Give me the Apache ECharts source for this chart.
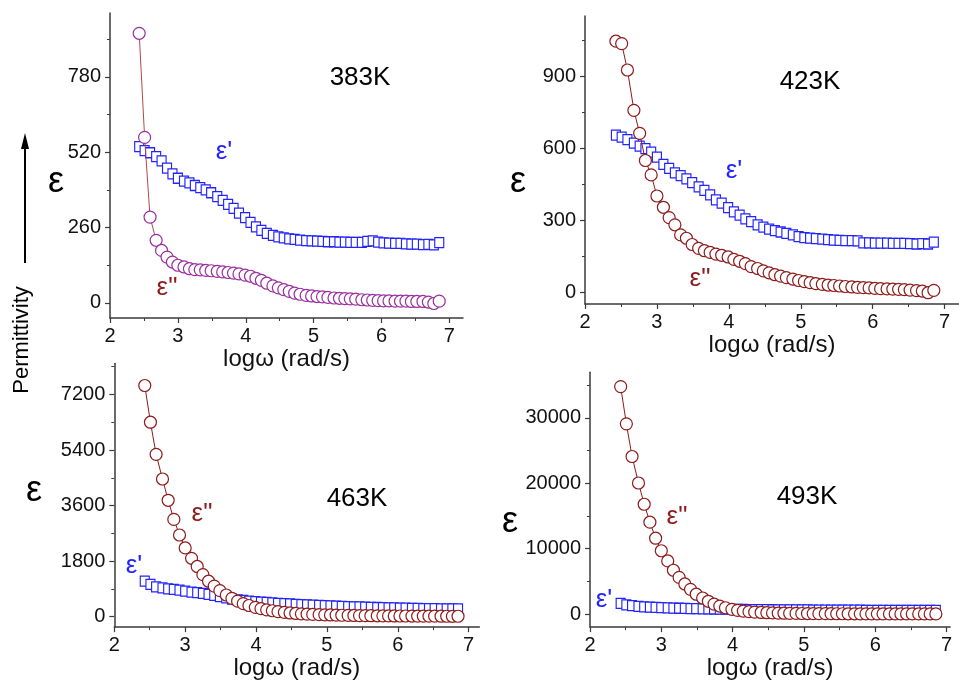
<!DOCTYPE html>
<html>
<head>
<meta charset="utf-8">
<script src="https://cdn.jsdelivr.net/npm/echarts@6/dist/echarts.min.js"></script>
<style>
  html, body { margin: 0; padding: 0; background: #fff; }
  #chart { width: 959px; height: 681px; }
</style>
</head>
<body>
<div id="chart"></div>
<script>
// log(omega) sampling points shared by every temperature
const logW = [
  2.43, 2.51, 2.59, 2.68, 2.76, 2.84, 2.92, 3.00, 3.09, 3.17,
  3.25, 3.33, 3.41, 3.49, 3.58, 3.66, 3.74, 3.82, 3.90, 3.99,
  4.07, 4.15, 4.23, 4.31, 4.40, 4.48, 4.56, 4.64, 4.72, 4.80,
  4.89, 4.97, 5.05, 5.13, 5.21, 5.30, 5.38, 5.46, 5.54, 5.62,
  5.71, 5.79, 5.87, 5.95, 6.03, 6.11, 6.20, 6.28, 6.36, 6.44,
  6.52, 6.61, 6.69, 6.77, 6.85
];

// 383 K
const epsReal383 = [
  539, 525, 518, 505, 490, 465, 445, 430, 420, 414,
  405, 398, 390, 380, 367, 354, 340, 326, 310, 294,
  278, 262, 250, 240, 233, 228, 224, 221, 219, 217,
  215, 214, 213, 212, 211, 211, 210, 210, 209, 209,
  209, 212, 214, 210, 207, 206, 205, 205, 204, 203,
  203, 201, 202, 200, 208
];
const epsImag383 = [
  930, 571, 296, 216, 181, 158, 141, 130, 124, 118,
  115, 114, 112, 111, 109, 107, 105, 103, 100, 96,
  92, 85, 78, 68, 59, 52, 46, 40, 34, 30,
  26, 24, 22, 21, 19, 17, 16, 15, 14, 13,
  11, 10, 9, 8, 7, 7, 6, 6, 6, 5,
  5, 5, 3, -2, 6
];

// 423 K
const epsReal423 = [
  654, 645, 635, 620, 608, 597, 583, 562, 532, 515,
  496, 485, 471, 456, 438, 423, 405, 384, 370, 352,
  334, 320, 305, 293, 280, 270, 262, 256, 250, 244,
  238, 231, 227, 224, 222, 220, 218, 216, 215, 214,
  214, 213, 205, 205, 204, 204, 204, 203, 203, 203,
  202, 200, 202, 200, 208
];
const epsImag423 = [
  1045, 1035, 925, 757, 661, 548, 488, 400, 353, 310,
  280, 238, 224, 198, 182, 172, 165, 158, 153, 146,
  136, 128, 118, 106, 98, 88, 80, 72, 66, 60,
  54, 48, 43, 39, 35, 32, 29, 27, 25, 23,
  21, 19, 18, 17, 15, 14, 13, 12, 11, 10,
  8, 6, 4, -3, 7
];

// 463 K
const epsReal463 = [
  1147, 1041, 966, 934, 902, 880, 860, 828, 797, 775,
  750, 720, 690, 650, 610, 570, 545, 525, 505, 488,
  472, 458, 445, 432, 420, 410, 400, 390, 380, 372,
  364, 356, 348, 340, 332, 325, 318, 312, 306, 300,
  295, 290, 285, 280, 276, 272, 268, 264, 261, 258,
  255, 252, 250, 248, 250
];
const epsImag463 = [
  7490, 6300, 5260, 4460, 3770, 3150, 2645, 2225, 1890, 1625,
  1360, 1147, 988, 840, 700, 590, 500, 420, 360, 300,
  260, 220, 190, 160, 138, 118, 102, 90, 80, 72,
  64, 58, 53, 48, 44, 40, 37, 34, 31, 29,
  27, 25, 23, 21, 20, 19, 18, 17, 16, 15,
  14, 13, 12, 10, 12
];

// 493 K
const epsReal493 = [
  1620, 1400, 1270, 1170, 1100, 1050, 1010, 970, 940, 910,
  885, 860, 840, 820, 800, 785, 770, 755, 740, 725,
  712, 700, 690, 680, 670, 662, 655, 648, 642, 636,
  630, 625, 620, 615, 610, 605, 600, 596, 592, 588,
  584, 580, 576, 572, 568, 565, 562, 559, 556, 553,
  550, 548, 545, 543, 560
];
const epsImag493 = [
  34800, 29100, 24100, 20050, 16800, 14050, 11600, 9680, 8120, 6700,
  5600, 4600, 3780, 3030, 2450, 1950, 1510, 1220, 960, 720,
  560, 450, 360, 290, 240, 200, 170, 145, 125, 108,
  95, 84, 75, 67, 60, 54, 49, 45, 41, 38,
  35, 32, 30, 28, 26, 24, 22, 21, 20, 19,
  18, 17, 16, 15, 16
];

// tick positions
const xTicks = [2, 3, 4, 5, 6, 7];
const xMinor = [2.5, 3.5, 4.5, 5.5, 6.5];
const yTicks383 = [0, 260, 520, 780];
const yMinor383 = [130, 390, 650, 910];
const yTicks423 = [0, 300, 600, 900];
const yMinor423 = [150, 450, 750, 1050];
const yTicks463 = [0, 1800, 3600, 5400, 7200];
const yMinor463 = [900, 2700, 4500, 6300, 8100];
const yTicks493 = [0, 10000, 20000, 30000];
const yMinor493 = [5000, 15000, 25000, 35000];

const temps = ['383K', '423K', '463K', '493K'];
const xTitle = 'log\u03c9 (rad/s)';

const FONT = '"Liberation Sans", Arial, sans-serif';
const AXIS_COLOR = '#3a3a3a';
const BLUE = '#2323ff';
const DARKRED = '#8e1b1b';
const PURPLE = '#9a2f9e';

const plain = v => String(v);

const panels = [
  { grid: { left: 110, top: 13, width: 353, height: 305 }, xMax: 7.2, yMin: -52, yMax: 1000,
    ticks: yTicks383, minor: yMinor383, real: epsReal383, imag: epsImag383,
    circ: PURPLE, line: '#b04a4a', nameGap: 24 },
  { grid: { left: 585, top: 16, width: 380, height: 288 }, xMax: 7.2, yMin: -50, yMax: 1150,
    ticks: yTicks423, minor: yMinor423, real: epsReal423, imag: epsImag423,
    circ: DARKRED, line: DARKRED, nameGap: 24 },
  { grid: { left: 114.3, top: 363.6, width: 365, height: 268.1 }, xMax: 7.15, yMin: -340, yMax: 8200,
    ticks: yTicks463, minor: yMinor463, real: epsReal463, imag: epsImag463,
    circ: DARKRED, line: DARKRED, nameGap: 23 },
  { grid: { left: 590, top: 372.2, width: 360.1, height: 257.8 }, xMax: 7.05, yMin: -2000, yMax: 37000,
    ticks: yTicks493, minor: yMinor493, real: epsReal493, imag: epsImag493,
    circ: DARKRED, line: DARKRED, nameGap: 23 }
];

const grids = [], xAxes = [], yAxes = [], series = [];

panels.forEach((p, i) => {
  grids.push(p.grid);
  // main x axis: line, major ticks, labels, title
  xAxes.push({
    type: 'value', gridIndex: i, min: 2, max: p.xMax, position: 'bottom',
    name: xTitle, nameLocation: 'middle', nameGap: p.nameGap,
    nameTextStyle: { fontFamily: FONT, fontSize: 24, color: '#111' },
    axisLine: { show: true, onZero: false, lineStyle: { color: AXIS_COLOR, width: 1.5 } },
    axisTick: { show: true, inside: false, length: 5, customValues: xTicks, lineStyle: { color: AXIS_COLOR, width: 1.2 } },
    axisLabel: { show: true, customValues: xTicks, formatter: plain, margin: 8, fontFamily: FONT, fontSize: 20, color: '#111' },
    splitLine: { show: false }
  });
  // companion x axis carrying the minor ticks
  xAxes.push({
    type: 'value', gridIndex: i, min: 2, max: p.xMax, position: 'bottom',
    axisLine: { show: false, onZero: false },
    axisTick: { show: true, inside: false, length: 3, customValues: xMinor, lineStyle: { color: AXIS_COLOR, width: 1 } },
    axisLabel: { show: false }, splitLine: { show: false }
  });
  yAxes.push({
    type: 'value', gridIndex: i, min: p.yMin, max: p.yMax, position: 'left',
    axisLine: { show: true, onZero: false, lineStyle: { color: AXIS_COLOR, width: 1.5 } },
    axisTick: { show: true, inside: false, length: 5, customValues: p.ticks, lineStyle: { color: AXIS_COLOR, width: 1.2 } },
    axisLabel: { show: true, customValues: p.ticks, formatter: plain, margin: 9, fontFamily: FONT, fontSize: 20, color: '#111' },
    splitLine: { show: false }
  });
  yAxes.push({
    type: 'value', gridIndex: i, min: p.yMin, max: p.yMax, position: 'left',
    axisLine: { show: false, onZero: false },
    axisTick: { show: true, inside: false, length: 3, customValues: p.minor, lineStyle: { color: AXIS_COLOR, width: 1 } },
    axisLabel: { show: false }, splitLine: { show: false }
  });

  // epsilon' : open blue squares
  series.push({
    type: 'line', xAxisIndex: 2 * i, yAxisIndex: 2 * i,
    data: logW.map((x, k) => [x, p.real[k]]),
    symbol: 'rect', symbolSize: [9, 10], showSymbol: true,
    lineStyle: { width: 0, opacity: 0 },
    itemStyle: { color: '#fff', borderColor: BLUE, borderWidth: 1.2 },
    z: 2, silent: true
  });
  // epsilon'' : open circles joined by a thin line
  series.push({
    type: 'line', xAxisIndex: 2 * i, yAxisIndex: 2 * i,
    data: logW.map((x, k) => [x, p.imag[k]]),
    symbol: 'circle', symbolSize: 12, showSymbol: true,
    lineStyle: { width: 1, color: p.line },
    itemStyle: { color: '#fff', borderColor: p.circ, borderWidth: 1.2 },
    z: 3, silent: true
  });
});

function label(text, x, y, size, color) {
  return {
    type: 'text', x: x, y: y, z: 10,
    style: { text: text, font: size + 'px ' + FONT, fill: color, align: 'center', verticalAlign: 'middle' }
  };
}

const graphics = [
  // temperatures
  label(temps[0], 360, 78, 26, '#000'),
  label(temps[1], 810, 82, 26, '#000'),
  label(temps[2], 357, 499, 26, '#000'),
  label(temps[3], 807, 497, 26, '#000'),
  // axis symbol
  label('\u03b5', 56, 182, 36, '#000'),
  label('\u03b5', 518, 182, 36, '#000'),
  label('\u03b5', 34, 491, 36, '#000'),
  label('\u03b5', 510, 522, 36, '#000'),
  // curve tags
  label("\u03b5'", 224, 152, 26, BLUE),
  label('\u03b5"', 167, 288, 26, DARKRED),
  label("\u03b5'", 734, 171, 26, BLUE),
  label('\u03b5"', 700, 279, 26, DARKRED),
  label("\u03b5'", 134, 566, 26, BLUE),
  label('\u03b5"', 202, 514, 26, DARKRED),
  label("\u03b5'", 604, 600, 26, BLUE),
  label('\u03b5"', 677, 517, 26, DARKRED),
  // shared permittivity arrow
  { type: 'line', shape: { x1: 25, y1: 263, x2: 25, y2: 147 }, style: { stroke: '#000', lineWidth: 2 } },
  { type: 'polygon', shape: { points: [[25, 133], [21, 149], [29, 149]] }, style: { fill: '#000' } },
  {
    type: 'text', x: 22, y: 340, rotation: Math.PI / 2,
    style: { text: 'Permittivity', font: '22px ' + FONT, fill: '#000', align: 'center', verticalAlign: 'middle' }
  }
];

const chart = echarts.init(document.getElementById('chart'), null, { renderer: 'canvas' });
chart.setOption({
  animation: false,
  backgroundColor: '#fff',
  grid: grids,
  xAxis: xAxes,
  yAxis: yAxes,
  series: series,
  graphic: graphics
});
</script>
</body>
</html>
